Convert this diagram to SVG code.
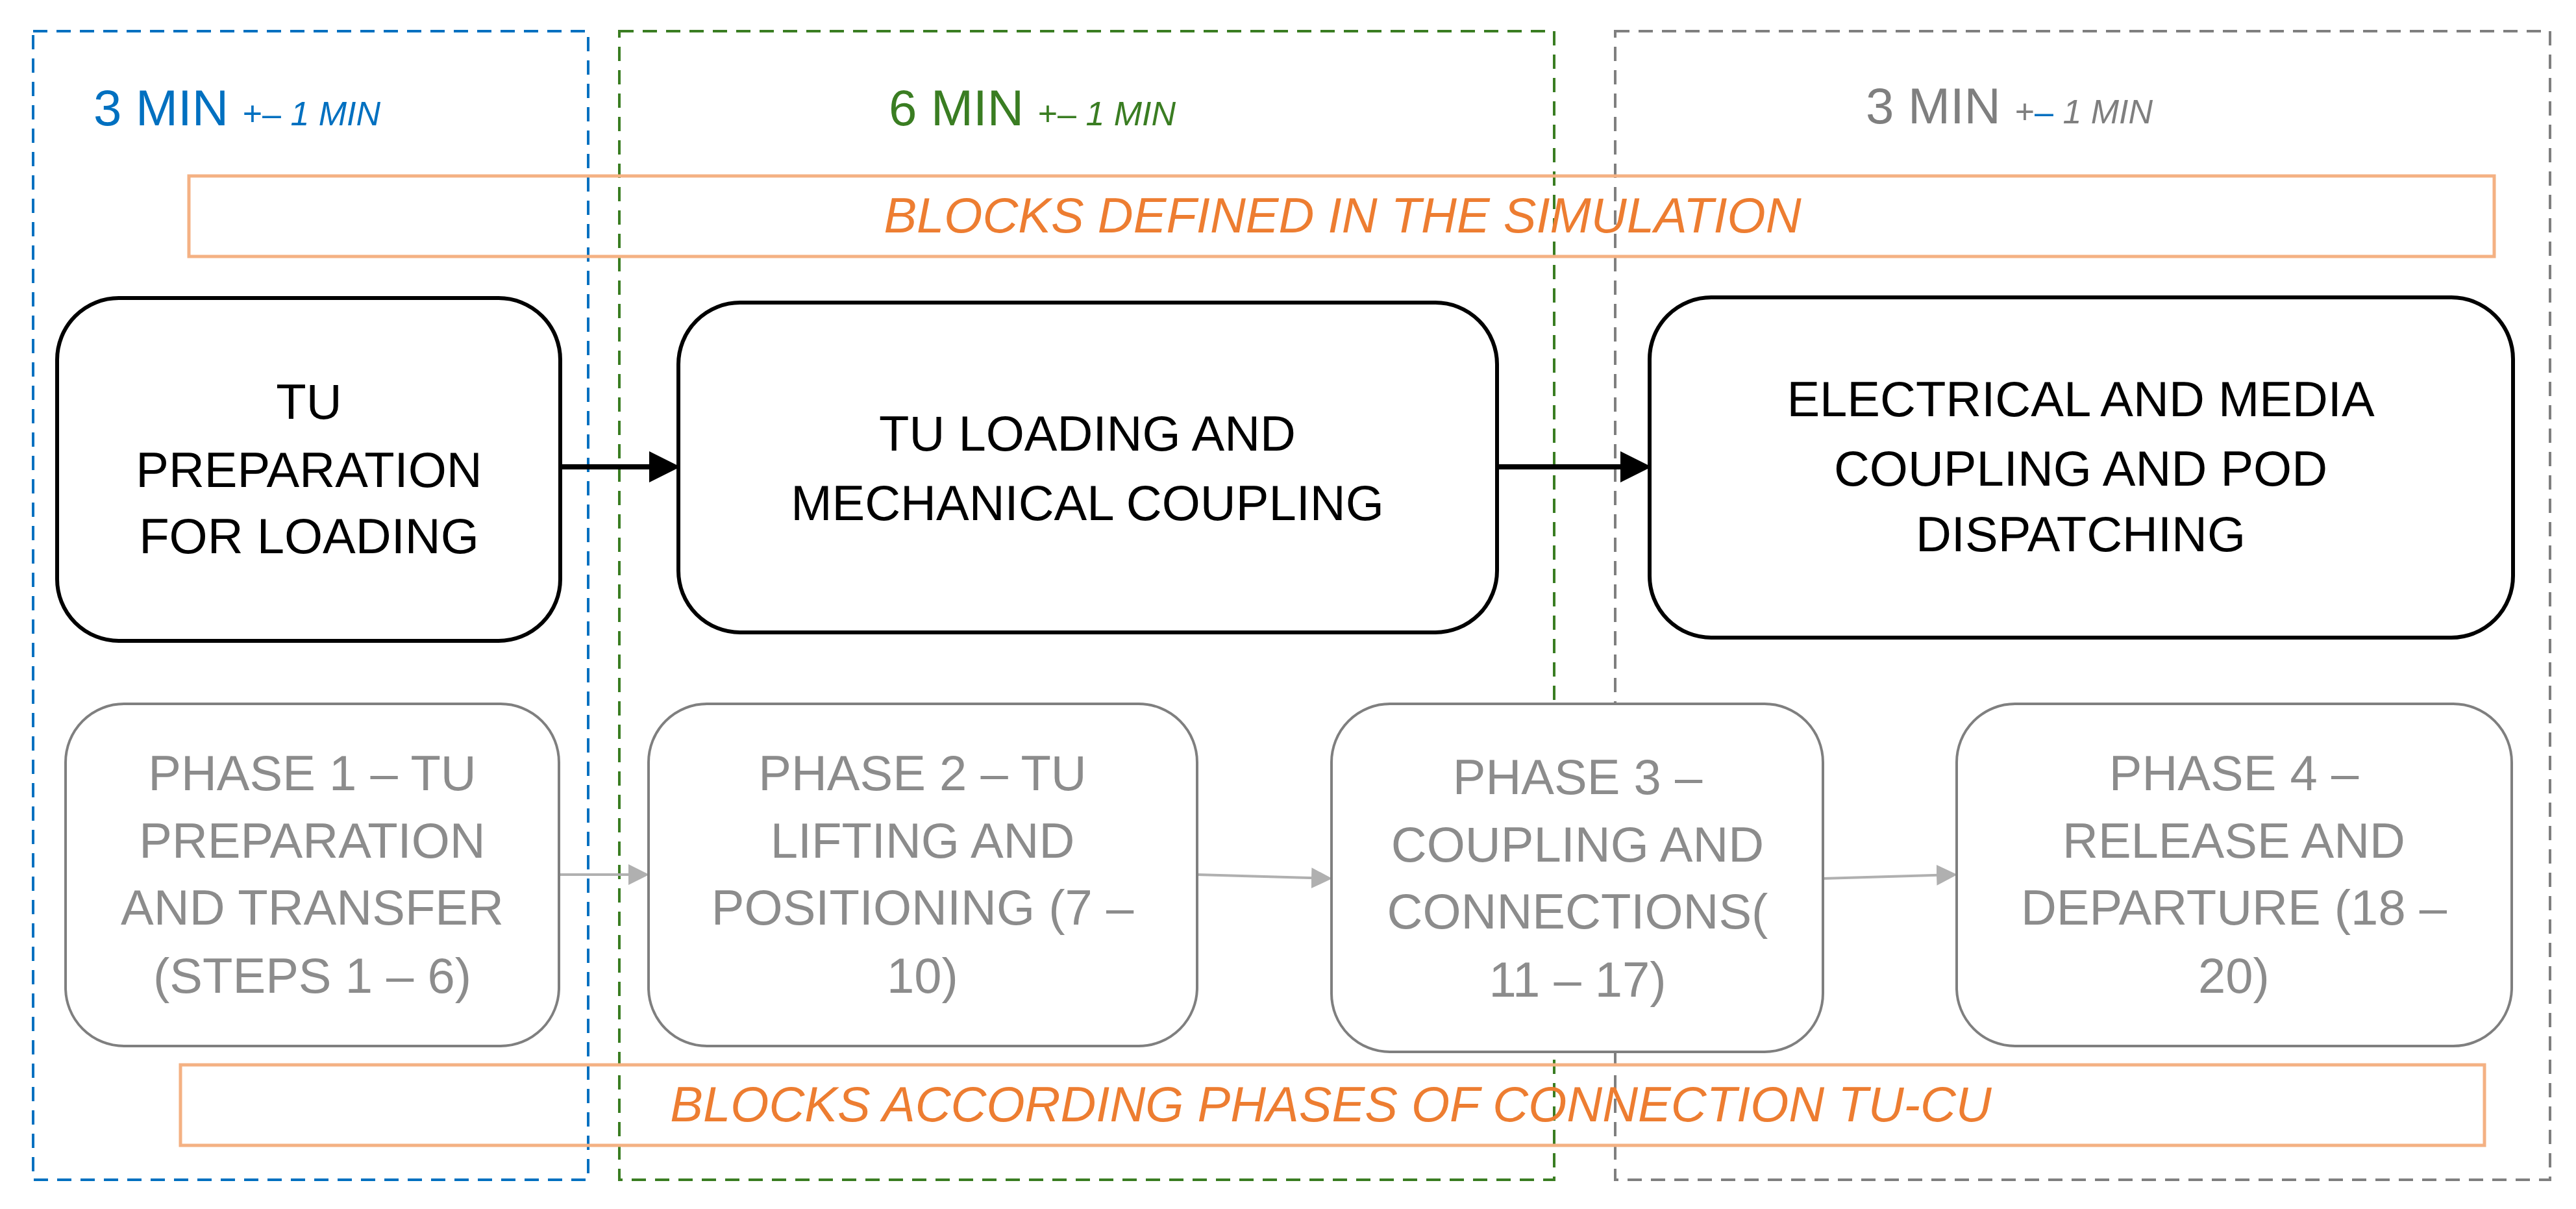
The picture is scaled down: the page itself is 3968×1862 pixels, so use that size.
<svg xmlns="http://www.w3.org/2000/svg" width="3968" height="1862" viewBox="0 0 3968 1862">
<style>
text{font-family:"Liberation Sans",Arial,sans-serif;text-anchor:middle}
.blk{fill:#fff;stroke:#000;stroke-width:6}
.ph{fill:#fff;stroke:#7f7f7f;stroke-width:4}
.bt{font-size:76px;fill:#000}
.pt{font-size:76px;fill:#8c8c8c}
.bar{fill:none;stroke:#F4B183;stroke-width:5}
.ot{font-size:76px;fill:#ED7D31;font-style:italic}
.t{font-size:78px}
.s{font-size:52px}
</style>
<defs>
<marker id="ab" markerWidth="6" markerHeight="6" refX="5" refY="3" orient="auto" markerUnits="strokeWidth"><path d="M0,0L6,3L0,6z" fill="#000"/></marker>
<marker id="ag" markerWidth="8" markerHeight="8" refX="7" refY="4" orient="auto" markerUnits="strokeWidth"><path d="M0,0L8,4L0,8z" fill="#b0b0b0"/></marker>
</defs>
<g id="zones">
<rect x="51" y="48" width="855" height="1769" fill="none" stroke="#0070C0" stroke-width="4" stroke-dasharray="22,14"/>
<rect x="954" y="48" width="1440" height="1769" fill="none" stroke="#3A7D22" stroke-width="4" stroke-dasharray="22,14"/>
<rect x="2488" y="48" width="1440" height="1769" fill="none" stroke="#7f7f7f" stroke-width="4" stroke-dasharray="22,14"/>
<text x="365" y="193" fill="#0070C0"><tspan class="t">3 MIN </tspan><tspan class="s">+– </tspan><tspan class="s" font-style="italic">1 MIN</tspan></text>
<text x="1590" y="193" fill="#3A7D22"><tspan class="t">6 MIN </tspan><tspan class="s">+– </tspan><tspan class="s" font-style="italic">1 MIN</tspan></text>
<text x="3095" y="190" fill="#7f7f7f"><tspan class="t">3 MIN </tspan><tspan class="s">+</tspan><tspan class="s" fill="#0070C0">– </tspan><tspan class="s" font-style="italic">1 MIN</tspan></text>
</g>
<g id="bar-top"><rect class="bar" x="291" y="271" width="3551" height="124"/><text class="ot" x="2068" y="358">BLOCKS DEFINED IN THE SIMULATION</text></g>
<g id="bar-bottom"><rect class="bar" x="278" y="1640" width="3549" height="124"/><text class="ot" x="2050" y="1727">BLOCKS ACCORDING PHASES OF CONNECTION TU-CU</text></g>
<g id="connectors">
<line x1="863" y1="719" x2="1040" y2="719" stroke="#000" stroke-width="8" marker-end="url(#ab)"/>
<line x1="2306" y1="719" x2="2536" y2="719" stroke="#000" stroke-width="8" marker-end="url(#ab)"/>
<line x1="863" y1="1347" x2="996" y2="1347" stroke="#b0b0b0" stroke-width="4" marker-end="url(#ag)"/>
<line x1="1844" y1="1347" x2="2048" y2="1353" stroke="#b0b0b0" stroke-width="4" marker-end="url(#ag)"/>
<line x1="2808" y1="1353" x2="3011" y2="1347" stroke="#b0b0b0" stroke-width="4" marker-end="url(#ag)"/>
</g>
<g id="b1"><rect class="blk" x="88" y="459" width="775" height="528" rx="95"/><text class="bt" x="476"><tspan x="476" y="645">TU</tspan><tspan x="476" y="750">PREPARATION</tspan><tspan x="476" y="852">FOR LOADING</tspan></text></g>
<g id="b2"><rect class="blk" x="1045" y="466" width="1261" height="508" rx="95"/><text class="bt"><tspan x="1675" y="694">TU LOADING AND</tspan><tspan x="1675" y="801">MECHANICAL COUPLING</tspan></text></g>
<g id="b3"><rect class="blk" x="2541" y="458" width="1330" height="524" rx="95"/><text class="bt"><tspan x="3205" y="641">ELECTRICAL AND MEDIA</tspan><tspan x="3205" y="748">COUPLING AND POD</tspan><tspan x="3205" y="849">DISPATCHING</tspan></text></g>
<g id="p1"><rect class="ph" x="101" y="1084" width="760" height="527" rx="90"/><text class="pt"><tspan x="481" y="1217">PHASE 1 – TU</tspan><tspan x="481" y="1321">PREPARATION</tspan><tspan x="481" y="1424">AND TRANSFER</tspan><tspan x="481" y="1529">(STEPS 1 – 6)</tspan></text></g>
<g id="p2"><rect class="ph" x="999" y="1084" width="845" height="527" rx="90"/><text class="pt"><tspan x="1421" y="1217">PHASE 2 – TU</tspan><tspan x="1421" y="1321">LIFTING AND</tspan><tspan x="1421" y="1424">POSITIONING (7 –</tspan><tspan x="1421" y="1529">10)</tspan></text></g>
<g id="p3"><rect class="ph" x="2051" y="1084" width="757" height="536" rx="90"/><text class="pt"><tspan x="2430" y="1223">PHASE 3 –</tspan><tspan x="2430" y="1327">COUPLING AND</tspan><tspan x="2430" y="1430">CONNECTIONS(</tspan><tspan x="2430" y="1535">11 – 17)</tspan></text></g>
<g id="p4"><rect class="ph" x="3014" y="1084" width="855" height="527" rx="90"/><text class="pt"><tspan x="3441" y="1217">PHASE 4 –</tspan><tspan x="3441" y="1321">RELEASE AND</tspan><tspan x="3441" y="1424">DEPARTURE (18 –</tspan><tspan x="3441" y="1529">20)</tspan></text></g>
</svg>
